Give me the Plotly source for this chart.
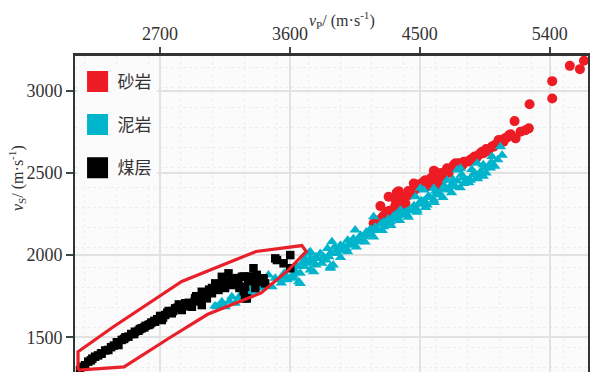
import plotly.graph_objects as go

# ---- data (vp, vs in m/s) ----
sand_vp = [5638, 5610, 5540, 5418, 5418, 5261, 5157, 5256, 5233, 5198, 5164, 5106, 5130, 5046, 5011,
           4976, 4942, 4932, 4898, 4887, 4863, 4817, 4805, 4770, 4747, 4735, 4689, 4689, 4608, 4597,
           4655, 4620, 4550, 4539, 4527, 4458, 4423, 4400, 4366, 4354, 4340, 4319, 4284, 4273, 4261,
           4227, 4180, 5080, 5020, 4960, 4910, 4850, 4790, 4720, 4660, 4640, 4580, 4500, 4470, 4440,
           4380, 4330, 4300, 4240, 4200,
           4330, 4370, 4420, 4480, 4520, 4570, 4610, 4650, 4700, 4750, 4800, 4840, 4880, 4920, 4960,
           5000, 5040, 5060, 5090, 5120, 4580, 4560, 4490, 4640, 4700, 4200, 4250, 4290]
sand_vs = [3182, 3131, 3151, 3058, 2953, 2918, 2815, 2771, 2760, 2750, 2710, 2716, 2735, 2700, 2659,
           2639, 2619, 2628, 2598, 2588, 2588, 2568, 2568, 2558, 2558, 2548, 2528, 2507, 2507, 2513,
           2456, 2426, 2416, 2456, 2446, 2436, 2365, 2315, 2284, 2389, 2380, 2274, 2355, 2264, 2244,
           2298, 2193, 2690, 2670, 2630, 2610, 2580, 2540, 2530, 2490, 2470, 2440, 2420, 2400, 2380,
           2330, 2300, 2260, 2230, 2210,
           2340, 2360, 2390, 2420, 2440, 2460, 2480, 2500, 2520, 2540, 2555, 2570, 2600, 2620, 2645,
           2660, 2680, 2700, 2710, 2730, 2470, 2450, 2430, 2480, 2500, 2200, 2240, 2270]

mud_vp = [5071, 5059, 5001, 4990, 4921, 4921, 4898, 4898, 4851, 4828, 4805, 4782, 4759, 4747, 4689,
          4689, 4643, 4597, 4597, 4550, 4527, 4504, 4481, 4470, 4412, 4366, 4342, 4296, 4250, 4204,
          4180, 4157, 4157, 4111, 4065, 4052, 4018, 3972, 3926, 3891, 3880, 3880, 3880, 3833, 3787,
          3764, 3741, 3741, 3729, 3729, 3694, 3683, 3671, 3671, 3660, 3625, 3614, 3498, 3475, 3451,
          3405, 3371, 3313, 3289, 3220, 3197, 3151, 3128, 3093,
          4950, 4870, 4800, 4760, 4720, 4660, 4620, 4570, 4530, 4490, 4450, 4420, 4380, 4320, 4280,
          4230, 4190, 4130, 4090, 4040, 4000, 3950, 3910, 3860, 3810, 3780, 3760, 3700, 3640, 3560,
          3530, 3350, 3250,
          3900, 3950, 4000, 4060, 4120, 4180, 4240, 4300, 4360, 4420, 4480, 4540, 4600, 4660, 4720,
          4780, 4840, 4900, 4960, 5020,
          3820, 3870, 3930, 3990, 4030, 4080, 4140, 4200, 4260, 4310, 4350, 4400, 4460, 4510, 4560,
          4610, 4670, 4730, 4790, 4860, 4940, 5000,
          3560, 3600, 3650, 3700, 3740, 3780, 3620, 3580, 3540, 3450, 3400, 3330, 3260, 3180, 3120,
          3080,
          4100, 4150, 4250, 4340, 4440, 4520, 4620, 4700, 4880, 4940, 4990, 5040, 3850, 3960, 4020]
mud_vs = [2608, 2659, 2558, 2558, 2507, 2497, 2476, 2558, 2456, 2456, 2436, 2528, 2517, 2416, 2396,
          2456, 2365, 2335, 2406, 2304, 2396, 2406, 2274, 2355, 2244, 2274, 2223, 2203, 2172, 2152,
          2233, 2157, 2132, 2112, 2081, 2152, 2071, 2051, 2031, 2081, 2011, 1929, 1920, 1990, 1980,
          1899, 2020, 1909, 1950, 2011, 1990, 1950, 1889, 1828, 1838, 1859, 1868, 1859, 1808, 1879,
          1838, 1828, 1768, 1727, 1707, 1747, 1686, 1716, 1686,
          2530, 2490, 2470, 2450, 2430, 2400, 2380, 2350, 2330, 2310, 2290, 2270, 2250, 2240, 2220,
          2190, 2170, 2140, 2120, 2100, 2090, 2060, 2050, 2040, 2010, 1990, 1960, 1930, 1900, 1870,
          1850, 1780, 1740,
          1940, 1985, 2020, 2050, 2080, 2110, 2150, 2180, 2210, 2230, 2260, 2290, 2320, 2350, 2380,
          2410, 2440, 2465, 2500, 2540,
          1950, 1990, 2010, 2040, 2060, 2090, 2120, 2150, 2190, 2220, 2240, 2260, 2300, 2330, 2360,
          2390, 2420, 2460, 2490, 2520, 2550, 2600,
          1890, 1920, 1930, 1960, 1980, 1940, 1880, 1850, 1830, 1810, 1800, 1790, 1760, 1720, 1700,
          1690,
          2100, 2140, 2200, 2250, 2280, 2320, 2370, 2400, 2500, 2480, 2530, 2580, 1970, 2030, 2080]

coal_vp = [3602, 3510, 3498, 3556, 3602, 3347, 3417, 3394, 3428, 3267, 3174, 3243, 3289, 3301, 3289,
           3197, 3128, 3128, 3082, 3105, 3059, 3024, 2989, 2989, 2943, 2920, 2874, 2850, 2804, 2781,
           2735, 2712, 2665, 2619, 2573, 2526, 2480, 2434, 2411, 2341, 2295, 2249, 2202, 2168, 2145,
           3040, 3000, 2960, 2900, 2860, 2830, 2760, 2700, 2680, 2640, 2600, 2550, 2500, 2460, 2380,
           2320, 2270, 2220, 3150, 3220, 3320, 3370, 2950, 3060,
           2180, 2230, 2290, 2360, 2400, 2450, 2520, 2560, 2590, 2630, 2660, 2720, 2750, 2790, 2820,
           2880, 2910, 2940, 2970, 3010, 3050, 3090, 3140, 3170, 3200, 3230, 3280, 3310, 3340, 3360,
           3280, 3250]
coal_vs = [2000, 1970, 1980, 1950, 1920, 1920, 1859, 1838, 1828, 1868, 1889, 1838, 1808, 1737, 1737,
           1818, 1818, 1868, 1828, 1788, 1768, 1737, 1696, 1777, 1737, 1686, 1707, 1666, 1676, 1646,
           1636, 1605, 1595, 1575, 1555, 1534, 1504, 1484, 1453, 1423, 1403, 1382, 1352, 1321, 1301,
           1790, 1750, 1720, 1710, 1690, 1700, 1660, 1630, 1610, 1590, 1570, 1540, 1520, 1500, 1450,
           1420, 1390, 1360, 1800, 1850, 1870, 1880, 1750, 1800,
           1330, 1370, 1400, 1440, 1470, 1490, 1520, 1550, 1560, 1580, 1600, 1620, 1650, 1660, 1680,
           1690, 1700, 1720, 1730, 1760, 1780, 1800, 1830, 1840, 1850, 1860, 1870, 1850, 1840, 1800,
           1780, 1800]

# outline drawn around the coal points
zone_vp = [2131, 2131, 2374, 2850, 3365, 3683, 3713, 3590, 3400, 3030, 2780, 2450, 2131]
zone_vs = [1300, 1412, 1563, 1840, 2022, 2058, 2022, 1910, 1770, 1640, 1505, 1320, 1300]

names = ["砂岩", "泥岩", "煤层"]
colors = ["#ed1c24", "#00b4cc", "#000000"]
x_ticks = [2700, 3600, 4500, 5400]
y_ticks = [1500, 2000, 2500, 3000]

CJK = "Noto Sans CJK SC"
SERIF = "Liberation Serif, DejaVu Serif, serif"

fig = go.Figure()
fig.add_trace(go.Scatter(x=sand_vp, y=sand_vs, mode="markers", showlegend=False,
                         marker=dict(symbol="circle", size=10, color=colors[0])))
fig.add_trace(go.Scatter(x=mud_vp, y=mud_vs, mode="markers", showlegend=False,
                         marker=dict(symbol="triangle-up", size=10, color=colors[1])))
fig.add_trace(go.Scatter(x=coal_vp, y=coal_vs, mode="markers", showlegend=False,
                         marker=dict(symbol="square", size=8.5, color=colors[2])))
fig.add_trace(go.Scatter(x=zone_vp, y=zone_vs, mode="lines", showlegend=False,
                         line=dict(color="#e8202a", width=3.2)))

# legend entries
for i, (n, c) in enumerate(zip(names, colors)):
    fig.add_trace(go.Scatter(x=[None], y=[None], mode="markers", name=n, legendgroup=n,
                             marker=dict(symbol="square", size=16, color=c,
                                         line=dict(color=c, width=5))))

grid_major = "#e2e2e2"
grid_minor = "#eeeeee"
fig.update_layout(
    width=590, height=372,
    margin=dict(l=75, r=2, t=56, b=0),
    paper_bgcolor="#ffffff",
    plot_bgcolor="#fbfbfb",
    showlegend=True,
    legend=dict(x=0.005, y=0.975, xanchor="left", yanchor="top",
                bgcolor="#fbfbfb", borderwidth=0,
                font=dict(family=CJK, size=17, color="#333333"),
                tracegroupgap=18, itemwidth=30),
    xaxis=dict(side="top", range=[2110, 5666], tickvals=x_ticks,
               ticks="outside", ticklen=6, tickwidth=1.5, tickcolor="#3a4a4a",
               showline=True, linecolor="#333333", linewidth=2.5, mirror=False,
               showgrid=True, gridcolor=grid_major, gridwidth=1.5, zeroline=False,
               tickfont=dict(family=SERIF, size=18, color="#333333"),
               minor=dict(tick0=2179, dtick=221, showgrid=True, gridcolor=grid_minor,
                          griddash="dot", gridwidth=1)),
    yaxis=dict(range=[1289, 3211], tickvals=y_ticks,
               ticks="outside", ticklen=7, tickwidth=1.5, tickcolor="#3a4a4a",
               showline=True, linecolor="#333333", linewidth=2, mirror=True,
               showgrid=True, gridcolor=grid_major, gridwidth=1.5, zeroline=False,
               tickfont=dict(family=SERIF, size=18, color="#333333"),
               minor=dict(tick0=1319, dtick=121.6, showgrid=True, gridcolor=grid_minor,
                          griddash="dot", gridwidth=1)),
    annotations=[
        dict(text="<i>v</i><sub>P</sub>/ (m·s<sup>-1</sup>)", xref="paper", yref="paper",
             x=0.52, y=1.114, showarrow=False, xanchor="center", yanchor="middle",
             font=dict(family=SERIF, size=16, color="#333333")),
        dict(text="<i>v</i><sub>S</sub>/ (m·s<sup>-1</sup>)", xref="paper", yref="paper",
             x=-0.113, y=0.614, showarrow=False, textangle=-90, xanchor="center", yanchor="middle",
             font=dict(family=SERIF, size=16, color="#333333")),
    ],
)

fig.write_html("out.html", post_script="document.body.style.margin='0';",
               config={"displayModeBar": False})
